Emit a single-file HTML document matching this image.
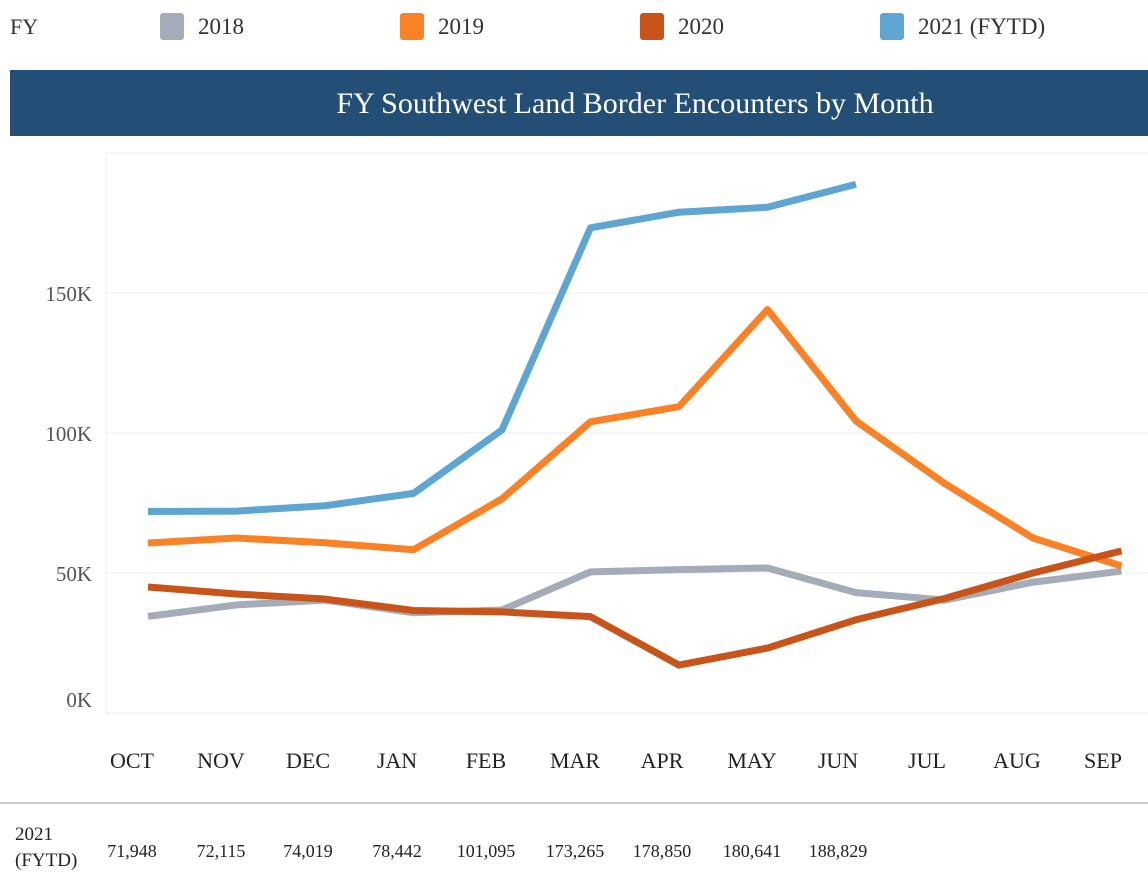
<!DOCTYPE html>
<html><head><meta charset="utf-8"><style>
body{margin:0;background:#fff;width:1148px;height:890px;overflow:hidden;font-family:"Liberation Serif",serif;}
</style></head><body>
<svg width="1148" height="890" style="font-family:'Liberation Serif',serif">
<g id="legend">
<text x="10" y="34" font-size="22" fill="#333">FY</text>
</g>
<rect x="10" y="70" width="1138" height="66" fill="#234f77"/>
<text x="635" y="113" font-size="30" fill="#fff" text-anchor="middle">FY Southwest Land Border Encounters by Month</text>
<line x1="106" y1="153" x2="1148" y2="153" stroke="#eee"/>
<line x1="106" y1="153" x2="106" y2="713" stroke="#eee"/>
<g id="grid"></g><g id="lines"></g><g id="xl"></g>
<line x1="0" y1="803" x2="1148" y2="803" stroke="#ccc" stroke-width="2"/>
<text x="15" y="840" font-size="19" fill="#222">2021</text>
<text x="15" y="866" font-size="19" fill="#222">(FYTD)</text>
<g id="tbl"></g>
</svg>
<script>
const months=["OCT","NOV","DEC","JAN","FEB","MAR","APR","MAY","JUN","JUL","AUG","SEP"];
const yTicks=[0,50000,100000,150000];
const s2018=[34500,38600,40300,35800,36800,50400,51200,51800,43000,40300,46700,50700];
const s2019=[60700,62500,60800,58300,76500,104000,109400,144100,104300,82000,62500,52500];
const s2020=[45000,42500,40700,36600,36100,34400,17100,23200,33300,40900,50000,57900];
const s2021=[71948,72115,74019,78442,101095,173265,178850,180641,188829];
const tableVals=["71,948","72,115","74,019","78,442","101,095","173,265","178,850","180,641","188,829"];
const seriesNames=["2018","2019","2020","2021 (FYTD)"];
const colors=["#a5acb9","#f98126","#c9541a","#5ea5d1"];
const NS="http://www.w3.org/2000/svg";
const x=i=>148+i*88.5;
const y=v=>713-v*140/50000;
function mk(t,a,p){const e=document.createElementNS(NS,t);for(const k in a)e.setAttribute(k,a[k]);p.appendChild(e);return e;}
const grid=document.getElementById('grid');
yTicks.forEach(v=>{
 const l=mk('line',{x1:106,x2:1148,y1:y(v),y2:y(v),stroke:'#eee'},grid);
 
 
 const t=mk('text',{x:92,y:v===0?y(v)-6:y(v)+8,'font-size':21,fill:'#555','text-anchor':'end'},grid);
 t.textContent=(v/1000)+'K';
 
 
});
const xl=document.getElementById('xl');
const labelX=[132,221,308,397,486,575,662,752,838,927,1017,1103];
months.forEach((m,i)=>{
 const t=mk('text',{x:labelX[i],y:768,'font-size':22,fill:'#222','text-anchor':'middle'},xl);
 t.textContent=m;
 
 
});
const lines=document.getElementById('lines');
[s2018,s2019,s2020,s2021].forEach((s,k)=>{
 const p=mk('polyline',{points:s.map((v,i)=>x(i)+','+y(v)).join(' '),fill:'none',stroke:colors[k],'stroke-width':7,'stroke-linejoin':'round'},lines);
 
 
});
const lg=document.getElementById('legend');
const lx=[160,400,640,880];
seriesNames.forEach((n,k)=>{
 const r=mk('rect',{x:lx[k],y:13,width:24,height:27,rx:3,fill:colors[k]},lg);
 
 
 const t=mk('text',{x:lx[k]+38,y:34,'font-size':23,fill:'#333'},lg);
 t.textContent=n;
 
 
});
const tb=document.getElementById('tbl');
tableVals.forEach((v,i)=>{
 const t=mk('text',{x:labelX[i],y:857,'font-size':18,fill:'#222','text-anchor':'middle'},tb);
 t.textContent=v;
 
 
});
</script>
</body></html>
